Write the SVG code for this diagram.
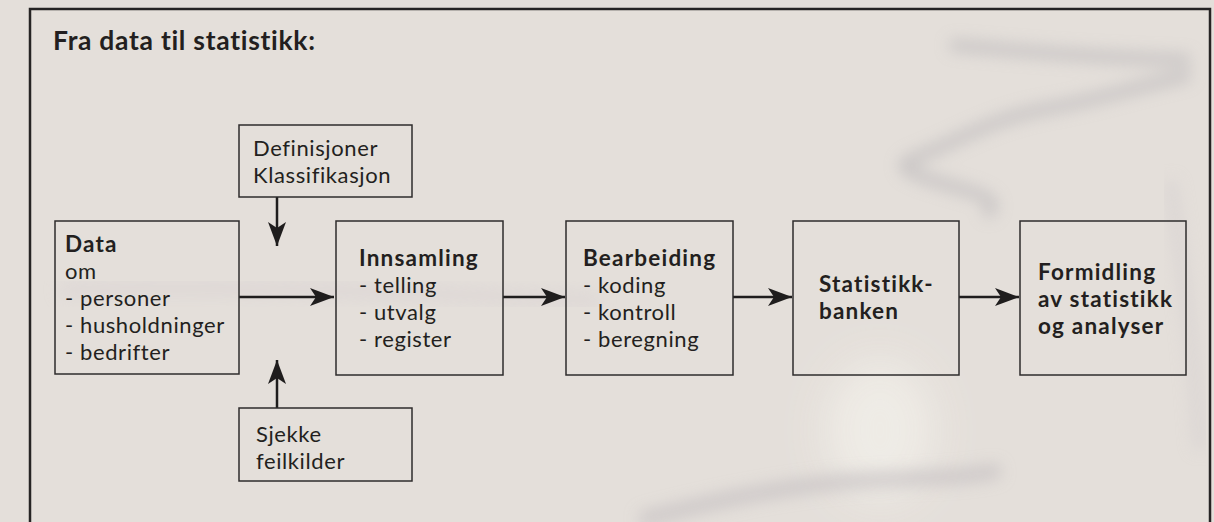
<svg xmlns="http://www.w3.org/2000/svg" width="1214" height="522" viewBox="0 0 1214 522">
  <defs>
    <style>
      .bg { fill: #e4dfda; }
      .frame { fill: none; stroke: #262424; stroke-width: 2.5; }
      .box { fill: none; stroke: #2e2c2c; stroke-width: 1.5; }
      .conn { fill: none; stroke: #1f1d1d; stroke-width: 2.5; }
      text { font-family: Lato, "Open Sans", "Liberation Sans", sans-serif; fill: #231f20; font-variant-ligatures: none; font-feature-settings: "liga" 0, "dlig" 0; }
      .t { font-size: 22px; letter-spacing: 0.6px; }
      .b { font-size: 22.5px; font-weight: bold; letter-spacing: 1.2px; }
      .title { font-size: 26.5px; font-weight: bold; letter-spacing: 0.7px; }
    </style>
    <marker id="ah" viewBox="0 0 24 18" refX="24" refY="9" markerWidth="24" markerHeight="18" markerUnits="userSpaceOnUse" orient="auto">
      <path d="M0,0 L24,9 L0,18 L6,9 Z" fill="#1f1d1d"/>
    </marker>
    <filter id="blur" x="-20%" y="-50%" width="140%" height="200%">
      <feGaussianBlur stdDeviation="8"/>
    </filter>
    <filter id="blur2" x="-50%" y="-50%" width="200%" height="200%">
      <feGaussianBlur stdDeviation="20"/>
    </filter>
  </defs>

  <!-- background -->
  <rect class="bg" x="0" y="0" width="1214" height="522"/>
  <g id="background-texture">
    <ellipse cx="880" cy="430" rx="55" ry="70" fill="#f0ede7" filter="url(#blur2)" opacity="0.9"/>
    <path d="M60,290 C200,284 400,292 600,300" stroke="#d9d2d3" stroke-width="14" fill="none" filter="url(#blur)" opacity="0.6"/>
    <path d="M950,45 C1010,50 1090,58 1190,60 M1190,75 C1130,88 1100,100 1040,110 C990,120 960,140 910,160 C890,170 930,180 965,190 C990,196 1000,205 985,215" stroke="#bdbabc" stroke-width="11" fill="none" filter="url(#blur)" opacity="0.75"/>
    <path d="M640,520 C700,505 760,490 840,482 C900,477 960,480 1000,470" stroke="#c2bdc0" stroke-width="14" fill="none" filter="url(#blur)" opacity="0.7"/>
    <path d="M1170,180 C1185,280 1195,360 1200,450" stroke="#d0cbcd" stroke-width="12" fill="none" filter="url(#blur)" opacity="0.5"/>
  </g>

  <!-- frame -->
  <rect class="frame" x="30" y="9" width="1180" height="530"/>
  <text class="title" x="53" y="50">Fra data til statistikk:</text>

  <!-- connectors -->
  <g id="connectors">
    <line class="conn" x1="277" y1="197" x2="277" y2="246" marker-end="url(#ah)"/>
    <line class="conn" x1="277" y1="408" x2="277" y2="360" marker-end="url(#ah)"/>
    <line class="conn" x1="239" y1="297" x2="334" y2="297" marker-end="url(#ah)"/>
    <line class="conn" x1="503" y1="297" x2="565" y2="297" marker-end="url(#ah)"/>
    <line class="conn" x1="733" y1="297" x2="792" y2="297" marker-end="url(#ah)"/>
    <line class="conn" x1="959" y1="297" x2="1019" y2="297" marker-end="url(#ah)"/>
  </g>

  <g id="node-definisjoner">
    <rect class="box" x="239" y="125" width="173" height="72"/>
    <text class="t" x="253" y="156">Definisjoner</text>
    <text class="t" x="253" y="183">Klassifikasjon</text>
  </g>

  <g id="node-sjekke">
    <rect class="box" x="239" y="408" width="173" height="73"/>
    <text class="t" x="256" y="442">Sjekke</text>
    <text class="t" x="256" y="469">feilkilder</text>
  </g>

  <g id="node-data">
    <rect class="box" x="55" y="221" width="184" height="153"/>
    <text class="b" x="65" y="252">Data</text>
    <text class="t" x="65" y="279">om</text>
    <text class="t" x="65" y="306">- personer</text>
    <text class="t" x="65" y="333">- husholdninger</text>
    <text class="t" x="65" y="360">- bedrifter</text>
  </g>

  <g id="node-innsamling">
    <rect class="box" x="336" y="221" width="167" height="154"/>
    <text class="b" x="359" y="266">Innsamling</text>
    <text class="t" x="359" y="293">- telling</text>
    <text class="t" x="359" y="320">- utvalg</text>
    <text class="t" x="359" y="347">- register</text>
  </g>

  <g id="node-bearbeiding">
    <rect class="box" x="566" y="221" width="167" height="154"/>
    <text class="b" x="583" y="266">Bearbeiding</text>
    <text class="t" x="583" y="293">- koding</text>
    <text class="t" x="583" y="320">- kontroll</text>
    <text class="t" x="583" y="347">- beregning</text>
  </g>

  <g id="node-statistikkbanken">
    <rect class="box" x="793" y="221" width="166" height="154"/>
    <text class="b" x="819" y="292">Statistikk-</text>
    <text class="b" x="819" y="319">banken</text>
  </g>

  <g id="node-formidling">
    <rect class="box" x="1020" y="221" width="166" height="154"/>
    <text class="b" x="1038" y="280">Formidling</text>
    <text class="b" x="1038" y="307">av statistikk</text>
    <text class="b" x="1038" y="334">og analyser</text>
  </g>
</svg>
